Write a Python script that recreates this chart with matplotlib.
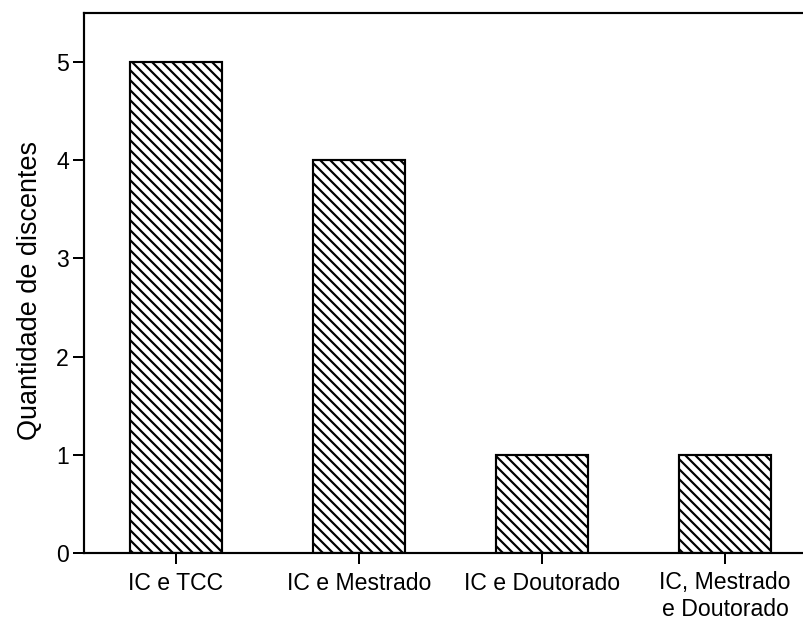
import matplotlib
matplotlib.use("Agg")
import matplotlib.pyplot as plt

plt.rcParams['font.family'] = ['Liberation Sans', 'DejaVu Sans']
plt.rcParams['hatch.linewidth'] = 1.3

categorias = ["IC e TCC", "IC e Mestrado", "IC e Doutorado", "IC, Mestrado\ne Doutorado"]
quantidade = [5, 4, 1, 1]
yticks = [0, 1, 2, 3, 4, 5]

dpi = 120
fig = plt.figure(figsize=(803 / dpi, 620 / dpi), dpi=dpi)
ax = fig.add_axes([84 / 803, 67 / 620, 727 / 803, 540 / 620])

pos = list(range(len(categorias)))
barras = ax.bar(pos, quantidade, width=0.5, color='white', edgecolor='black',
                linewidth=1.3, hatch=chr(92) * 4)

ax.set_xlim(-0.503, 3.47)
ax.set_ylim(0, 5.5)
ax.set_xticks(pos)
ax.set_xticklabels(categorias, fontsize=13.8)
ax.set_yticks(yticks)
ax.set_yticklabels([str(v) for v in yticks], fontsize=13.8)
ax.tick_params(axis='both', direction='out', length=6.6, width=1.2)
ax.tick_params(axis='x', pad=4.5)
ax.tick_params(axis='y', pad=2.5)

for s in ax.spines.values():
    s.set_linewidth(1.3)

ax.set_ylabel("Quantidade de discentes", fontsize=16.2)
ax.yaxis.set_label_coords(-0.056, 0.487)

fig.savefig("out.png", dpi=dpi)
